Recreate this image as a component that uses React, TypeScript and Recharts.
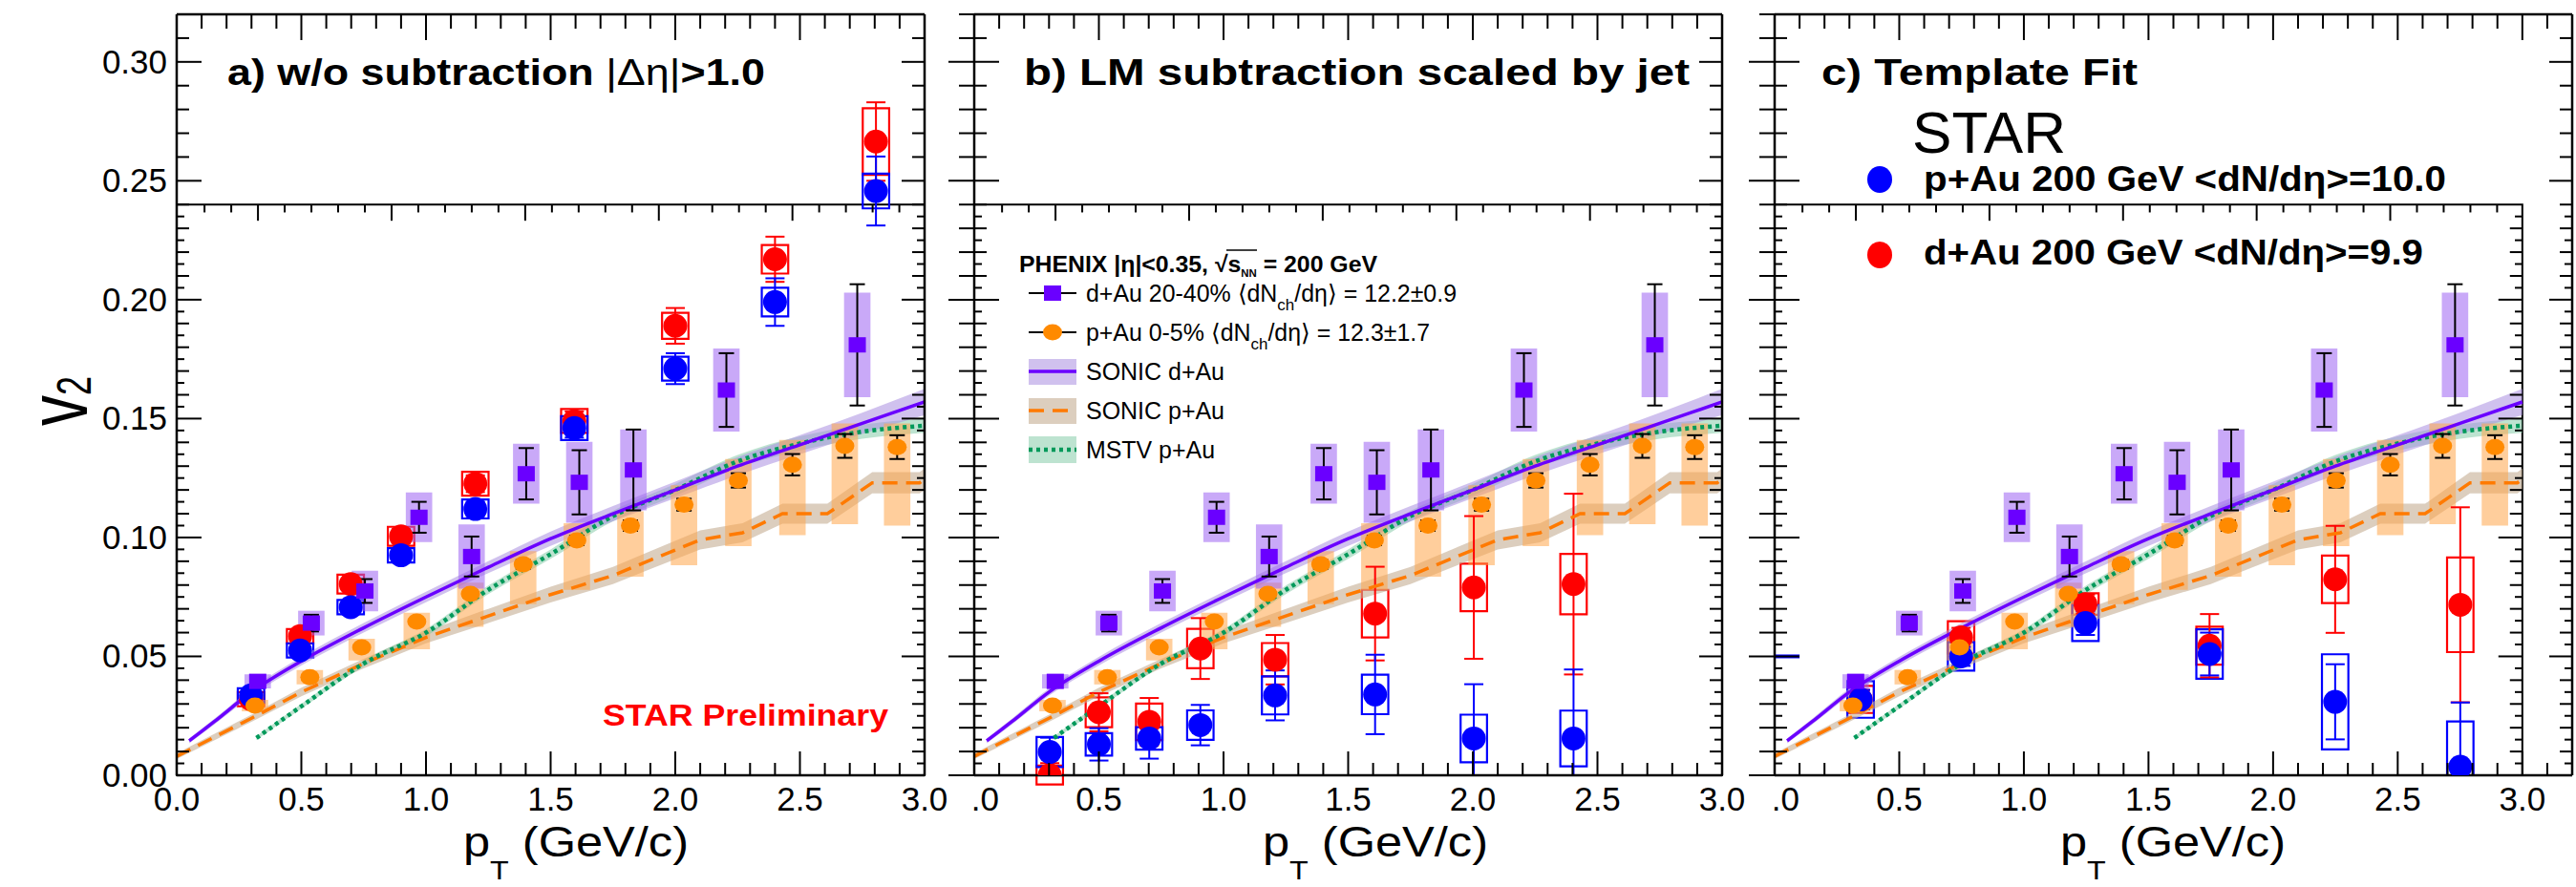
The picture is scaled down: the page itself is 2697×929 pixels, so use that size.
import React from 'react';
import {
  ComposedChart,
  XAxis,
  YAxis,
  Line,
  Area,
  Scatter,
  ErrorBar,
  ReferenceArea,
  ReferenceLine,
} from 'recharts';

const FONT = '"Liberation Sans", Arial, Helvetica, sans-serif';
const W = 2697;
const H = 929;

// ---------- PHENIX d+Au 20-40% ----------
const phenixDAuPt = [0.325, 0.54, 0.755, 0.972, 1.183, 1.402, 1.615, 1.832, 2.205, 2.73];
const phenixDAuV2 = [0.0395, 0.064, 0.0775, 0.1085, 0.092, 0.1268, 0.1232, 0.1284, 0.162, 0.181];
const phenixDAuStat = [0.001, 0.0035, 0.005, 0.0065, 0.0084, 0.0108, 0.0135, 0.017, 0.0155, 0.0255];
const phenixDAuSys = [0.003, 0.0052, 0.0085, 0.0104, 0.0135, 0.0126, 0.017, 0.017, 0.0175, 0.022];

// ---------- PHENIX p+Au 0-5% ----------
const phenixPAuPt = [0.314, 0.534, 0.742, 0.963, 1.178, 1.39, 1.605, 1.82, 2.035, 2.253, 2.47, 2.68, 2.89];
const phenixPAuV2 = [0.0293, 0.0413, 0.0538, 0.0646, 0.0763, 0.0887, 0.0988, 0.105, 0.1138, 0.124, 0.1306, 0.1385, 0.138];
const phenixPAuStat = [0.0005, 0.0008, 0.001, 0.0012, 0.0015, 0.0018, 0.002, 0.0022, 0.0025, 0.003, 0.0045, 0.005, 0.005];
const phenixPAuSysLo = [0.0269, 0.0382, 0.0483, 0.053, 0.0624, 0.072, 0.078, 0.0835, 0.0883, 0.0964, 0.101, 0.1056, 0.105];
const phenixPAuSysHi = [0.0317, 0.0443, 0.0574, 0.0684, 0.081, 0.0943, 0.106, 0.111, 0.122, 0.133, 0.141, 0.148, 0.148];

// ---------- SONIC d+Au ----------
const sonicDAuPt = [0.05, 0.15, 0.3, 0.5, 0.75, 1.0, 1.25, 1.5, 1.75, 2.0, 2.25, 2.5, 2.75, 3.0];
const sonicDAuV2 = [0.0145, 0.0225, 0.035, 0.048, 0.062, 0.075, 0.0875, 0.0995, 0.11, 0.12, 0.13, 0.139, 0.148, 0.157];
const sonicDAuErr = [0.001, 0.0012, 0.0015, 0.0018, 0.002, 0.0022, 0.0025, 0.003, 0.0032, 0.0035, 0.0038, 0.004, 0.0045, 0.0055];

// ---------- SONIC p+Au ----------
const sonicPAuPt = [0, 0.3, 0.5, 0.75, 1.0, 1.25, 1.5, 1.75, 1.9, 2.1, 2.27, 2.43, 2.61, 2.79, 2.98, 3.0];
const sonicPAuV2 = [0.008, 0.024, 0.035, 0.047, 0.058, 0.067, 0.076, 0.084, 0.0905, 0.099, 0.102, 0.11, 0.11, 0.123, 0.123, 0.1245];
const sonicPAuErr = [0.0012, 0.0015, 0.0018, 0.002, 0.0025, 0.003, 0.0033, 0.0036, 0.0038, 0.004, 0.004, 0.0042, 0.0042, 0.0045, 0.0045, 0.0045];

// ---------- MSTV p+Au ----------
const mstvPt = [0.32, 0.5, 0.75, 1.0, 1.25, 1.5, 1.75, 2.0, 2.25, 2.5, 2.75, 3.0];
const mstvV2 = [0.0157, 0.029, 0.047, 0.06, 0.078, 0.093, 0.109, 0.12, 0.132, 0.1395, 0.1445, 0.147];
const mstvErr = [0.0008, 0.001, 0.0012, 0.0015, 0.0018, 0.002, 0.0022, 0.0025, 0.0027, 0.003, 0.003, 0.003];

// ---------- STAR, a) w/o subtraction ----------
const starAPt = [0.298, 0.495, 0.698, 0.9, 1.198, 1.595, 2.0, 2.4, 2.805];
const starAPAu = [0.0336, 0.0525, 0.0707, 0.0925, 0.112, 0.146, 0.171, 0.199, 0.2457];
const starAPAuStat = [0.002, 0.002, 0.002, 0.0025, 0.003, 0.004, 0.0065, 0.01, 0.0145];
const starAPAuSys = [0.003, 0.003, 0.003, 0.003, 0.004, 0.005, 0.005, 0.006, 0.0073];
const starADAu = [0.032, 0.0585, 0.0804, 0.1005, 0.1226, 0.149, 0.189, 0.217, 0.2665];
const starADAuStat = [0.002, 0.002, 0.002, 0.003, 0.0035, 0.004, 0.0075, 0.0095, 0.0165];
const starADAuSys = [0.003, 0.003, 0.004, 0.004, 0.005, 0.005, 0.0055, 0.006, 0.014];

// ---------- STAR, b) LM subtraction scaled by jet ----------
const starBPt = [0.303, 0.5, 0.702, 0.907, 1.207, 1.608, 2.004, 2.404];
const starBPAu = [0.0098, 0.013, 0.0155, 0.0211, 0.0336, 0.034, 0.0155, 0.0155];
const starBPAuStat = [0.006, 0.0068, 0.0085, 0.0085, 0.0105, 0.0167, 0.0228, 0.029];
const starBPAuSys = [0.0063, 0.0047, 0.0047, 0.0062, 0.008, 0.0083, 0.01, 0.0117];
const starBDAu = [0.0001, 0.0265, 0.0225, 0.0533, 0.0486, 0.068, 0.079, 0.0804];
const starBDAuStat = [0.005, 0.008, 0.01, 0.0128, 0.0104, 0.0197, 0.03, 0.038];
const starBDAuSys = [0.004, 0.0063, 0.0077, 0.0083, 0.007, 0.01, 0.01, 0.0127];

// ---------- STAR, c) Template Fit ----------
const starCPt = [0.345, 0.748, 1.247, 1.745, 2.249, 2.751];
const starCPAu = [0.0319, 0.05, 0.064, 0.051, 0.0309, 0.0036];
const starCPAuStat = [0.004, 0.004, 0.005, 0.009, 0.0158, 0.027];
const starCPAuSys = [0.0077, 0.006, 0.0075, 0.0104, 0.02, 0.019];
const starCDAu = [0.0319, 0.058, 0.072, 0.0545, 0.0824, 0.0717];
const starCDAuStat = [0.004, 0.004, 0.004, 0.0133, 0.0225, 0.041];
const starCDAuSys = [0.0057, 0.0068, 0.0045, 0.008, 0.01, 0.0199];

// ---------- axis ticks ----------
const yTicks = Array.from({ length: 65 }, (_, i) => Number((i * 0.005).toFixed(3)));
const xTicks30 = Array.from({ length: 31 }, (_, i) => Number((i * 0.1).toFixed(1)));
const xTicks32 = Array.from({ length: 33 }, (_, i) => Number((i * 0.1).toFixed(1)));
const innerTopTicks = Array.from({ length: 30 }, (_, i) => Number((-0.21 + i * 0.1072).toFixed(4))).filter(
  (t) => t > 0.02 && t < 2.98
);

const BOX_HALF = 0.053;

type Row = { x: number; v: number; err?: number | number[] };
const rows = (xs: number[], vs: number[], errs?: number[]): Row[] =>
  xs.map((x, i) => ({ x, v: vs[i], err: errs ? errs[i] : undefined }));
// error bars stop at the v2 = 0 axis, as the frame clips them
const clippedRows = (xs: number[], vs: number[], errs: number[]): Row[] =>
  xs.map((x, i) => ({ x, v: vs[i], err: [Math.min(errs[i], Math.max(vs[i], 0)), errs[i]] }));
const band = (xs: number[], vs: number[], errs: number[]) =>
  xs.map((x, i) => ({ x, range: [vs[i] - errs[i], vs[i] + errs[i]] }));

const phenixDAuRows = rows(phenixDAuPt, phenixDAuV2, phenixDAuStat);
const phenixPAuRows = rows(phenixPAuPt, phenixPAuV2, phenixPAuStat);
const sonicDAuRows = rows(sonicDAuPt, sonicDAuV2);
const sonicPAuRows = rows(sonicPAuPt, sonicPAuV2);
const mstvRows = rows(mstvPt, mstvV2);
const sonicDAuBand = band(sonicDAuPt, sonicDAuV2, sonicDAuErr);
const sonicPAuBand = band(sonicPAuPt, sonicPAuV2, sonicPAuErr);
const mstvBand = band(mstvPt, mstvV2, mstvErr);

type StarSet = {
  pt: number[];
  pAu: number[];
  pAuStat: number[];
  pAuSys: number[];
  dAu: number[];
  dAuStat: number[];
  dAuSys: number[];
};

const starA: StarSet = {
  pt: starAPt, pAu: starAPAu, pAuStat: starAPAuStat, pAuSys: starAPAuSys,
  dAu: starADAu, dAuStat: starADAuStat, dAuSys: starADAuSys,
};
const starB: StarSet = {
  pt: starBPt, pAu: starBPAu, pAuStat: starBPAuStat, pAuSys: starBPAuSys,
  dAu: starBDAu, dAuStat: starBDAuStat, dAuSys: starBDAuSys,
};
const starC: StarSet = {
  pt: starCPt, pAu: starCPAu, pAuStat: starCPAuStat, pAuSys: starCPAuSys,
  dAu: starCDAu, dAuStat: starCDAuStat, dAuSys: starCDAuSys,
};

const BLUE = '#0000ff';
const RED = '#ff0000';
const PURPLE = '#6a00ff';
const ORANGE = '#ff8a00';
const GREEN = '#00995a';

// ---------- tick renderers ----------
const leftYTick = (labels: boolean, both: boolean) => (p: any) => {
  const v = p.payload.value as number;
  const k = Math.round(v / 0.005);
  const major = k % 10 === 0;
  const mid = k % 2 === 0;
  if (!mid && v > 0.2401) return <g />;
  const inLen = major ? 26 : mid ? 13 : 8;
  const outLen = both ? (major ? 27 : mid ? 16 : 0) : 0;
  return (
    <g>
      <line x1={p.x - outLen} x2={p.x + inLen} y1={p.y} y2={p.y} stroke="#000" strokeWidth={2} />
      {labels && major && (
        <text x={p.x - 10} y={p.y + 12} textAnchor="end" fontSize={35} fontFamily={FONT} fill="#000">
          {v.toFixed(2)}
        </text>
      )}
    </g>
  );
};

const rightYTick = (p: any) => {
  const v = p.payload.value as number;
  const k = Math.round(v / 0.005);
  const major = k % 10 === 0;
  const mid = k % 2 === 0;
  if (!mid && v > 0.2401) return <g />;
  const len = major ? 24 : mid ? 13 : 8;
  return <line x1={p.x} x2={p.x - len} y1={p.y} y2={p.y} stroke="#000" strokeWidth={2} />;
};

const bottomXTick = (cutZero: boolean) => (p: any) => {
  const v = p.payload.value as number;
  const k = Math.round(v * 10);
  const major = k % 5 === 0;
  const len = major ? 25 : 13;
  let label: React.ReactNode = null;
  if (major && v <= 3.0001) {
    if (v === 0 && cutZero) {
      label = (
        <text x={p.x + 26} y={p.y + 37} textAnchor="end" fontSize={35} fontFamily={FONT} fill="#000">
          .0
        </text>
      );
    } else {
      label = (
        <text x={p.x} y={p.y + 37} textAnchor="middle" fontSize={35} fontFamily={FONT} fill="#000">
          {v.toFixed(1)}
        </text>
      );
    }
  }
  return (
    <g>
      <line x1={p.x} x2={p.x} y1={p.y} y2={p.y - len} stroke="#000" strokeWidth={2} />
      {label}
    </g>
  );
};

const topXTick = (p: any) => {
  const v = p.payload.value as number;
  const k = Math.round(v * 10);
  const major = k % 5 === 0;
  const len = major ? 27 : 15;
  return <line x1={p.x} x2={p.x} y1={p.y} y2={p.y + len} stroke="#000" strokeWidth={2} />;
};

const circleShape = (color: string, r: number) => (p: any) =>
  <circle cx={p.cx} cy={p.cy} r={r} fill={color} />;
const squareShape = (p: any) => <rect x={p.cx - 9} y={p.cy - 8} width={18} height={16} fill={PURPLE} />;
const ellipseShape = (p: any) => <ellipse cx={p.cx} cy={p.cy} rx={10} ry={8.5} fill={ORANGE} />;

type PanelProps = {
  left: number;
  right: number;
  xMax: number;
  yLabels: boolean;
  bothTicks: boolean;
  cutZero: boolean;
  star: StarSet;
  innerRightTicks: boolean;
  extraMark?: boolean;
};

function starBox(key: string, x: number, v: number, sys: number, color: string) {
  const lo = v - sys;
  return (
    <ReferenceArea
      key={key}
      x1={x - BOX_HALF}
      x2={x + BOX_HALF}
      y1={lo}
      y2={v + sys}
      fill="none"
      stroke={color}
      strokeWidth={2.2}
      ifOverflow={lo < -0.005 ? 'hidden' : 'visible'}
    />
  );
}

function Panel({ left, right, xMax, yLabels, bothTicks, cutZero, star, innerRightTicks, extraMark }: PanelProps) {
  const pAuRows = clippedRows(star.pt, star.pAu, star.pAuStat);
  const dAuRows = clippedRows(star.pt, star.dAu, star.dAuStat);
  const xTicks = xMax > 3.05 ? xTicks32 : xTicks30;
  return (
    <div style={{ position: 'absolute', left: 0, top: 0 }}>
      <ComposedChart
        width={W}
        height={H}
        margin={{ top: 14, right: W - right - 1, bottom: H - 812 - 1, left: left - 1 }}
      >
        <XAxis
          dataKey="x"
          type="number"
          domain={[0, xMax]}
          allowDataOverflow
          ticks={xTicks}
          interval={0}
          height={1}
          tickSize={0}
          tickMargin={0}
          tickLine={false}
          axisLine={{ stroke: '#000', strokeWidth: 2.5 }}
          tick={bottomXTick(cutZero)}
        />
        <XAxis
          xAxisId="top"
          orientation="top"
          dataKey="x"
          type="number"
          domain={[0, xMax]}
          allowDataOverflow
          ticks={xTicks}
          interval={0}
          height={1}
          tickSize={0}
          tickMargin={0}
          tickLine={false}
          axisLine={{ stroke: '#000', strokeWidth: 2.5 }}
          tick={topXTick}
        />
        <YAxis
          type="number"
          domain={[0, 0.32]}
          allowDataOverflow
          ticks={yTicks}
          interval={0}
          width={1}
          tickSize={0}
          tickMargin={0}
          tickLine={false}
          axisLine={{ stroke: '#000', strokeWidth: 2.5 }}
          tick={leftYTick(yLabels, bothTicks)}
        />
        <YAxis
          yAxisId="r"
          orientation="right"
          type="number"
          domain={[0, 0.32]}
          allowDataOverflow
          ticks={yTicks}
          interval={0}
          width={1}
          tickSize={0}
          tickMargin={0}
          tickLine={false}
          axisLine={{ stroke: '#000', strokeWidth: 2.5 }}
          tick={rightYTick}
        />

        {/* inner PHENIX frame */}
        <ReferenceArea x1={0} x2={3} y1={0} y2={0.24} fill="none" stroke="#000" strokeWidth={2} ifOverflow="visible" />
        {innerTopTicks.map((t, i) => {
          const major = Math.abs((t - 0.325) / 0.536 - Math.round((t - 0.325) / 0.536)) < 0.05;
          return (
            <ReferenceLine
              key={`itt${i}`}
              segment={[{ x: t, y: 0.24 }, { x: t, y: 0.24 - (major ? 0.0068 : 0.0033) }]}
              stroke="#000"
              strokeWidth={2}
              ifOverflow="visible"
            />
          );
        })}
        {innerRightTicks &&
          yTicks
            .filter((v) => v > 0 && v < 0.24)
            .map((v) => {
              const k = Math.round(v / 0.005);
              const dx = k % 10 === 0 ? 0.096 : k % 2 === 0 ? 0.05 : 0.03;
              return (
                <ReferenceLine
                  key={`irt${k}`}
                  segment={[{ x: 3, y: v }, { x: 3 - dx, y: v }]}
                  stroke="#000"
                  strokeWidth={2}
                  ifOverflow="visible"
                />
              );
            })}
        {extraMark && (
          <ReferenceLine segment={[{ x: 0, y: 0.05 }, { x: 0.1, y: 0.05 }]} stroke={BLUE} strokeWidth={4} ifOverflow="visible" />
        )}

        {/* STAR systematic boxes */}
        {star.pt.map((x, i) => starBox(`sdb${i}`, x, star.dAu[i], star.dAuSys[i], RED))}
        {star.pt.map((x, i) => starBox(`spb${i}`, x, star.pAu[i], star.pAuSys[i], BLUE))}
        {/* STAR points */}
        <Scatter data={dAuRows} dataKey="v" isAnimationActive={false} shape={circleShape(RED, 12.5)}>
          <ErrorBar dataKey="err" direction="y" width={10} stroke={RED} strokeWidth={2} />
        </Scatter>
        <Scatter data={pAuRows} dataKey="v" isAnimationActive={false} shape={circleShape(BLUE, 12.5)}>
          <ErrorBar dataKey="err" direction="y" width={10} stroke={BLUE} strokeWidth={2} />
        </Scatter>

        {/* model bands */}
        <Area data={sonicPAuBand} dataKey="range" type="linear" stroke="none" fill="#c4ae92" fillOpacity={0.6} isAnimationActive={false} />
        <Area data={mstvBand} dataKey="range" type="monotone" stroke="none" fill="#7cc7a2" fillOpacity={0.5} isAnimationActive={false} />
        <Area data={sonicDAuBand} dataKey="range" type="monotone" stroke="none" fill="#a98ee0" fillOpacity={0.55} isAnimationActive={false} />

        {/* PHENIX systematic boxes */}
        {phenixPAuPt.map((x, i) => (
          <ReferenceArea
            key={`ppb${i}`}
            x1={x - BOX_HALF}
            x2={x + BOX_HALF}
            y1={phenixPAuSysLo[i]}
            y2={phenixPAuSysHi[i]}
            fill="#ffa64a"
            fillOpacity={0.55}
            stroke="none"
            ifOverflow="visible"
          />
        ))}
        {phenixDAuPt.map((x, i) => (
          <ReferenceArea
            key={`pdb${i}`}
            x1={x - BOX_HALF}
            x2={x + BOX_HALF}
            y1={phenixDAuV2[i] - phenixDAuSys[i]}
            y2={phenixDAuV2[i] + phenixDAuSys[i]}
            fill="#9d62f2"
            fillOpacity={0.55}
            stroke="none"
            ifOverflow="visible"
          />
        ))}

        {/* model curves */}
        <Line data={sonicPAuRows} dataKey="v" type="linear" stroke="#ff7a00" strokeWidth={3.5} strokeDasharray="16 9" dot={false} isAnimationActive={false} />
        <Line data={mstvRows} dataKey="v" type="monotone" stroke={GREEN} strokeWidth={4.5} strokeDasharray="4 4" dot={false} isAnimationActive={false} />
        <Line data={sonicDAuRows} dataKey="v" type="monotone" stroke={PURPLE} strokeWidth={3.5} dot={false} isAnimationActive={false} />

        {/* PHENIX points */}
        <Scatter data={phenixPAuRows} dataKey="v" isAnimationActive={false} shape={ellipseShape}>
          <ErrorBar dataKey="err" direction="y" width={8} stroke="#000" strokeWidth={2} />
        </Scatter>
        <Scatter data={phenixDAuRows} dataKey="v" isAnimationActive={false} shape={squareShape}>
          <ErrorBar dataKey="err" direction="y" width={8} stroke="#000" strokeWidth={2} />
        </Scatter>
      </ComposedChart>
    </div>
  );
}

function Texts() {
  const t = { fontFamily: FONT, fill: '#000' } as const;
  return (
    <svg width={W} height={H} style={{ position: 'absolute', left: 0, top: 0, pointerEvents: 'none' }}>
      {/* panel titles */}
      <text x={238} y={89} fontSize={38} fontWeight="bold" textLength={563} lengthAdjust="spacingAndGlyphs" {...t}>
        a) w/o subtraction <tspan fontWeight="normal">|Δη|</tspan>&gt;1.0
      </text>
      <text x={1072} y={89} fontSize={38} fontWeight="bold" textLength={697} lengthAdjust="spacingAndGlyphs" {...t}>
        b) LM subtraction scaled by jet
      </text>
      <text x={1907} y={89} fontSize={38} fontWeight="bold" textLength={331} lengthAdjust="spacingAndGlyphs" {...t}>
        c) Template Fit
      </text>

      {/* STAR legend */}
      <text x={2002} y={160} fontSize={61} textLength={161} lengthAdjust="spacingAndGlyphs" {...t}>
        STAR
      </text>
      <ellipse cx={1968} cy={188} rx={13} ry={14} fill={BLUE} />
      <text x={2014} y={200} fontSize={36} fontWeight="bold" textLength={547} lengthAdjust="spacingAndGlyphs" {...t}>
        p+Au 200 GeV &lt;dN/dη&gt;=10.0
      </text>
      <ellipse cx={1968} cy={267} rx={13} ry={14} fill={RED} />
      <text x={2014} y={277} fontSize={36} fontWeight="bold" textLength={523} lengthAdjust="spacingAndGlyphs" {...t}>
        d+Au 200 GeV &lt;dN/dη&gt;=9.9
      </text>

      {/* PHENIX legend */}
      <text x={1067} y={285} fontSize={24} fontWeight="bold" textLength={375} lengthAdjust="spacingAndGlyphs" {...t}>
        PHENIX |η|&lt;0.35,  √s<tspan fontSize={11} dy={5}>NN</tspan>
        <tspan dy={-5}> = 200 GeV</tspan>
      </text>
      <line x1={1284} x2={1316} y1={262} y2={262} stroke="#000" strokeWidth={1.5} />

      <line x1={1077} x2={1127} y1={307} y2={307} stroke="#000" strokeWidth={2} />
      <rect x={1093} y={299} width={18} height={16} fill={PURPLE} />
      <text x={1137} y={316} fontSize={25} textLength={388} lengthAdjust="spacingAndGlyphs" {...t}>
        d+Au 20-40% ⟨dN<tspan fontSize={17} dy={9}>ch</tspan>
        <tspan dy={-9}>/dη⟩ = 12.2±0.9</tspan>
      </text>

      <line x1={1077} x2={1127} y1={348} y2={348} stroke="#000" strokeWidth={2} />
      <ellipse cx={1102} cy={348} rx={10} ry={8.5} fill={ORANGE} />
      <text x={1137} y={357} fontSize={25} textLength={360} lengthAdjust="spacingAndGlyphs" {...t}>
        p+Au 0-5% ⟨dN<tspan fontSize={17} dy={9}>ch</tspan>
        <tspan dy={-9}>/dη⟩ = 12.3±1.7</tspan>
      </text>

      <rect x={1077} y={376} width={50} height={27} fill="#a98ee0" fillOpacity={0.55} />
      <line x1={1077} x2={1127} y1={389} y2={389} stroke={PURPLE} strokeWidth={3.5} />
      <text x={1137} y={398} fontSize={25} textLength={145} lengthAdjust="spacingAndGlyphs" {...t}>
        SONIC d+Au
      </text>

      <rect x={1077} y={417} width={50} height={27} fill="#c4ae92" fillOpacity={0.6} />
      <line x1={1077} x2={1127} y1={430} y2={430} stroke="#ff7a00" strokeWidth={3.5} strokeDasharray="16 9" />
      <text x={1137} y={439} fontSize={25} textLength={145} lengthAdjust="spacingAndGlyphs" {...t}>
        SONIC p+Au
      </text>

      <rect x={1077} y={457} width={50} height={28} fill="#7cc7a2" fillOpacity={0.5} />
      <line x1={1077} x2={1127} y1={471} y2={471} stroke={GREEN} strokeWidth={4.5} strokeDasharray="4 4" />
      <text x={1137} y={480} fontSize={25} textLength={135} lengthAdjust="spacingAndGlyphs" {...t}>
        MSTV p+Au
      </text>

      {/* STAR Preliminary */}
      <text x={631} y={760} fontSize={31} fontWeight="bold" fill={RED} fontFamily={FONT} textLength={299} lengthAdjust="spacingAndGlyphs">
        STAR Preliminary
      </text>

      {/* axis titles */}
      <text transform="translate(91, 446) scale(1.4, 1) rotate(-90)" fontSize={64} {...t}>
        v<tspan fontSize={36} dy={3}>2</tspan>
      </text>
      {[485, 1322, 2157].map((x) => (
        <text key={x} x={x} y={897} fontSize={44} textLength={236} lengthAdjust="spacingAndGlyphs" {...t}>
          p<tspan fontSize={28} dy={24}>T</tspan>
          <tspan dy={-24}> (GeV/c)</tspan>
        </text>
      ))}
    </svg>
  );
}

export default function App() {
  return (
    <div style={{ position: 'absolute', left: 0, top: 0, width: W, height: H, background: '#fff', overflow: 'hidden' }}>
      <Panel left={185} right={968} xMax={3.0} yLabels bothTicks={false} cutZero={false} star={starA} innerRightTicks={false} />
      <Panel left={1020} right={1803} xMax={3.0} yLabels={false} bothTicks cutZero star={starB} innerRightTicks={false} />
      <Panel left={1858} right={2693} xMax={3.2} yLabels={false} bothTicks cutZero star={starC} innerRightTicks extraMark />
      <Texts />
    </div>
  );
}
